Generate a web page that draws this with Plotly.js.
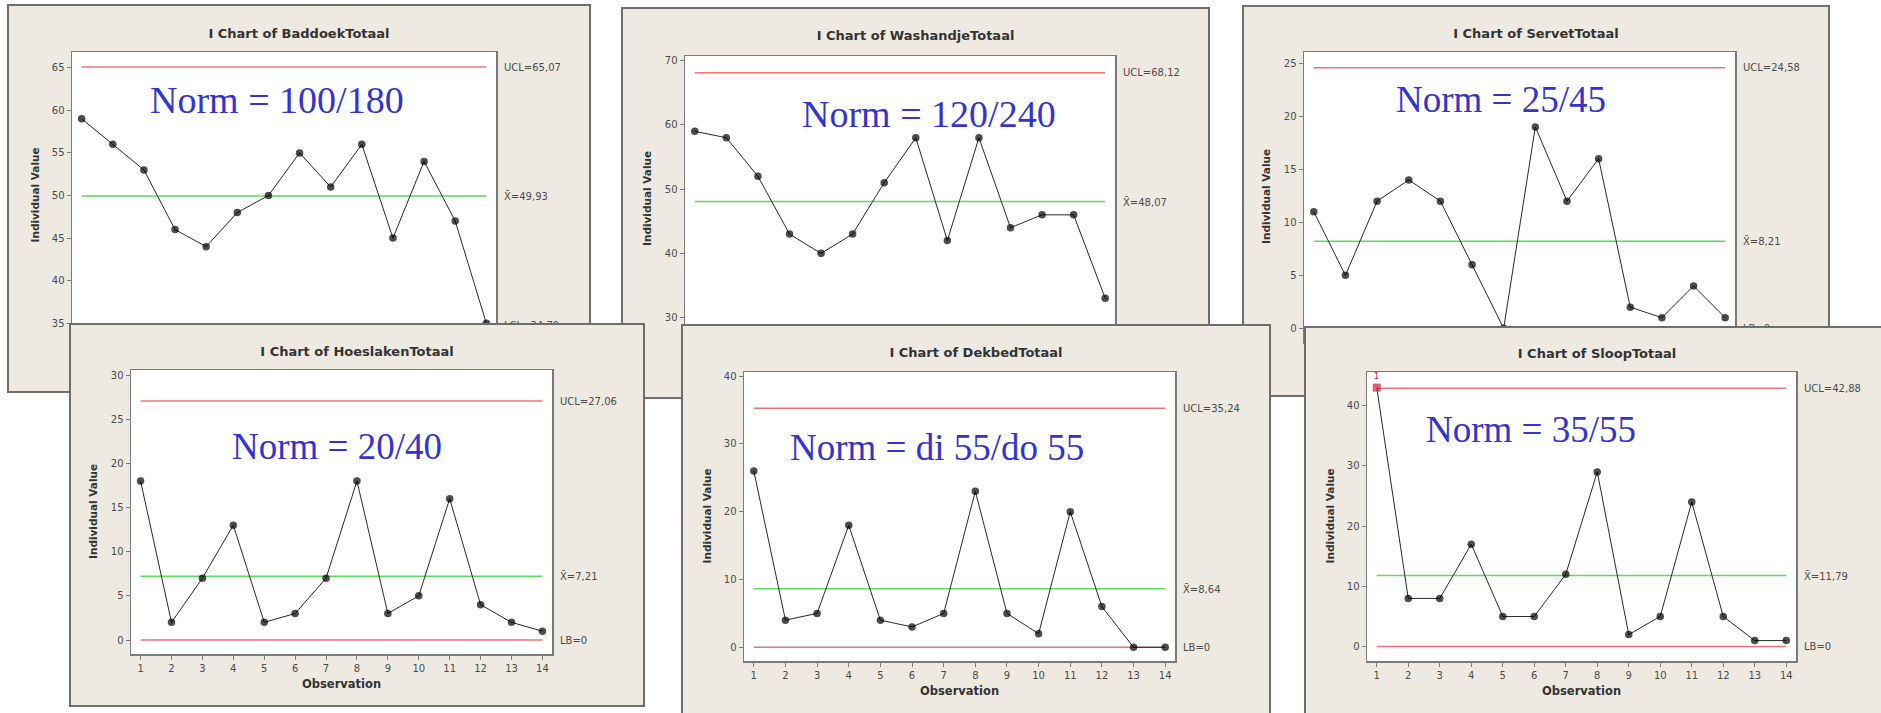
<!DOCTYPE html>
<html>
<head>
<meta charset="utf-8">
<script src="https://cdn.plot.ly/plotly-3.0.1.min.js"></script>
<style>
  html, body { margin:0; padding:0; background:#ffffff; }
  body { width:1881px; height:713px; overflow:hidden; position:relative; }
  .frame { position:absolute; box-sizing:border-box; border:2px solid #6e6e6e; background:#eeeae2; overflow:hidden; }
  .frame > div { position:absolute; left:0; top:0; }
</style>
</head>
<body>
<div class="frame" id="f1"><div id="p1"></div></div>
<div class="frame" id="f2"><div id="p2"></div></div>
<div class="frame" id="f3"><div id="p3"></div></div>
<div class="frame" id="f4"><div id="p4"></div></div>
<div class="frame" id="f5"><div id="p5"></div></div>
<div class="frame" id="f6"><div id="p6"></div></div>
<script>
// ---------------- data ----------------
const observations = [1,2,3,4,5,6,7,8,9,10,11,12,13,14];
const baddoekTotaal   = [59,56,53,46,44,48,50,55,51,56,45,54,47,35];
const washandjeTotaal = [59,58,52,43,40,43,51,58,42,58,44,46,46,33];
const servetTotaal    = [11,5,12,14,12,6,0,19,12,16,2,1,4,1];
const hoeslakenTotaal = [18,2,7,13,2,3,7,18,3,5,16,4,2,1];
const dekbedTotaal    = [26,4,5,18,4,3,5,23,5,2,20,6,0,0];
const sloopTotaal     = [43,8,8,17,5,5,12,29,2,5,24,5,1,1];

const chartTitles = ['I Chart of BaddoekTotaal','I Chart of WashandjeTotaal','I Chart of ServetTotaal',
                     'I Chart of HoeslakenTotaal','I Chart of DekbedTotaal','I Chart of SloopTotaal'];
const uclValues    = [65.07, 68.12, 24.58, 27.06, 35.24, 42.88];
const centerValues = [49.93, 48.07, 8.21, 7.21, 8.64, 11.79];
const lowerValues  = [34.79, 28.02, 0, 0, 0, 0];
const lowerNames   = ['LCL','LCL','LB','LB','LB','LB'];
const normTexts    = ['Norm = 100/180','Norm = 120/240','Norm = 25/45','Norm = 20/40','Norm = di 55/do 55','Norm = 35/55'];
const yTickStart   = [35, 30, 0, 0, 0, 0];
const yTickStep    = [5, 10, 5, 5, 10, 10];

// ---------------- layout config (pixel geometry) ----------------
const panels = [
  {id:'1', values:baddoekTotaal,   frame:[7,4,591,393],     plot:[72,52,496,339],    yRange:[33.16,66.84], titleY:33,  norm:[277,100], normSize:38, bottomRow:false},
  {id:'2', values:washandjeTotaal, frame:[621,7,1210,399],  plot:[685,56,1115,342],  yRange:[26.2,70.73],  titleY:35,  norm:[929,114], normSize:38, bottomRow:false},
  {id:'3', values:servetTotaal,    frame:[1242,5,1830,397], plot:[1304,52,1735,342], yRange:[-1.29,26.07], titleY:33,  norm:[1501,99], normSize:37, bottomRow:false},
  {id:'4', values:hoeslakenTotaal, frame:[69,323,645,707],  plot:[131,370,552,654],  yRange:[-1.585,30.57],titleY:351, norm:[337,447], normSize:37, bottomRow:true},
  {id:'5', values:dekbedTotaal,    frame:[681,324,1271,735],plot:[744,372,1175,661], yRange:[-2.02,40.59], titleY:352, norm:[937,447], normSize:37, bottomRow:true},
  {id:'6', values:sloopTotaal,     frame:[1304,326,1890,735],plot:[1367,372,1796,661],yRange:[-2.39,45.59],titleY:353, norm:[1531,429], normSize:37, bottomRow:true}
];

const TXT = '#4a4a4a';
const AXC = '#7a7a7a';
function fmt(v){ return v === 0 ? '0' : v.toFixed(2).replace('.', ','); }

panels.forEach((p, i) => {
  const f = document.getElementById('f' + p.id);
  const W = p.frame[2] - p.frame[0], H = p.frame[3] - p.frame[1];
  f.style.left = p.frame[0] + 'px'; f.style.top = p.frame[1] + 'px';
  f.style.width = W + 'px'; f.style.height = H + 'px';
  const iw = W - 4, ih = H - 4, ox = p.frame[0] + 2, oy = p.frame[1] + 2;
  const ml = p.plot[0] - ox, mt = p.plot[1] - oy;
  const mr = (p.frame[2] - 2) - p.plot[2], mb = (p.frame[3] - 2) - p.plot[3];
  const pw = p.plot[2] - p.plot[0], ph = p.plot[3] - p.plot[1];

  const ucl = uclValues[i], cl = centerValues[i], lcl = lowerValues[i];
  const out = p.values.map(v => v > ucl);
  const xEnds = [observations[0], observations[observations.length-1]];

  const traces = [
    {x:xEnds, y:[ucl, ucl], mode:'lines', line:{color:'#ee7474', width:1.5}, hoverinfo:'skip'},
    {x:xEnds, y:[cl, cl], mode:'lines', line:{color:'#5cdc5c', width:1.5}, hoverinfo:'skip'},
    {x:xEnds, y:[lcl, lcl], mode:'lines', line:{color:'#ee7474', width:1.5}, hoverinfo:'skip'},
    {x:observations, y:p.values, mode:'lines+markers',
     line:{color:'#2a2a2a', width:1},
     marker:{size: out.map(o => o ? 8 : 7.5), color: out.map(o => o ? '#c8203a' : '#000000'),
             symbol: out.map(o => o ? 'square' : 'circle'), line:{width:0}}}
  ];

  const lab = (txt, y) => ({text:txt, x:1, xref:'paper', xanchor:'left', xshift:6, y:y, yref:'y', yanchor:'middle',
                            showarrow:false, font:{family:'DejaVu Sans', size:10, color:TXT}});
  const annotations = [
    lab('UCL=' + fmt(ucl), ucl),
    lab('X\u0304=' + fmt(cl), cl),
    lab(lowerNames[i] + '=' + fmt(lcl), lcl),
    {text:normTexts[i], x:(p.norm[0]-p.plot[0])/pw, y:(p.plot[3]-p.norm[1])/ph, xref:'paper', yref:'paper',
     xanchor:'center', yanchor:'middle', showarrow:false,
     font:{family:'Liberation Serif', size:p.normSize, color:'#3434cc'}},
    {text:'<b>Individual Value</b>', x:0, xref:'paper', xshift:-38, y:0.5, yref:'paper', textangle:-90,
     xanchor:'center', yanchor:'middle', showarrow:false, font:{family:'DejaVu Sans', size:10.5, color:'#333'}}
  ];
  if (p.bottomRow) annotations.push({text:'<b>Observation</b>', x:0.5, xref:'paper', y:0, yref:'paper', yshift:-30,
     xanchor:'center', yanchor:'middle', showarrow:false, font:{family:'DejaVu Sans', size:11.5, color:'#333'}});
  p.values.forEach((v, k) => {
    if (out[k]) annotations.push({text:'1', x:observations[k], y:v, xref:'x', yref:'y', yshift:11, showarrow:false,
      font:{family:'DejaVu Sans', size:8, color:'#a02040'}});
  });

  const layout = {
    width: iw, height: ih,
    margin:{l:ml, r:mr, t:mt, b:mb, pad:0},
    paper_bgcolor:'#eeeae2', plot_bgcolor:'#ffffff',
    showlegend:false,
    title:{text:'<b>' + chartTitles[i] + '</b>', x:0.5, xref:'container', xanchor:'center',
           y: 1 - (p.titleY - oy) / ih, yref:'container', yanchor:'middle',
           font:{family:'DejaVu Sans', size:13, color:'#333'}},
    xaxis:{range:[0.69, 14.31], tickmode:'array', tickvals:observations, ticktext:observations.map(String),
           showticklabels:p.bottomRow,
           showgrid:false, zeroline:false, showline:true, mirror:true, linecolor:AXC, linewidth:1.5,
           ticks:'outside', ticklen:4, tickcolor:AXC, tickwidth:1,
           tickfont:{family:'DejaVu Sans', size:10, color:TXT}},
    yaxis:{range:p.yRange, tickmode:'linear', tick0:yTickStart[i], dtick:yTickStep[i],
           showgrid:false, zeroline:false, showline:true, mirror:true, linecolor:AXC, linewidth:1.5,
           ticks:'outside', ticklen:4, tickcolor:AXC, tickwidth:1,
           tickfont:{family:'DejaVu Sans', size:10, color:TXT}},
    annotations: annotations
  };
  Plotly.newPlot('p' + p.id, traces, layout, {staticPlot:true, displayModeBar:false});
});
</script>
</body>
</html>
